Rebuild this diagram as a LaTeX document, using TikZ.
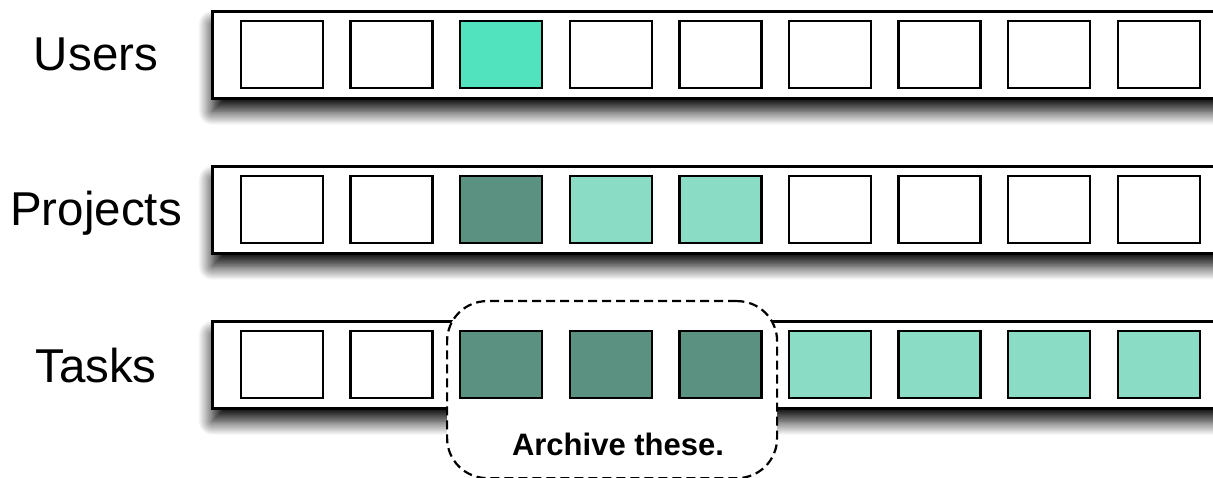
\documentclass[tikz,border=0pt]{standalone}
\usepackage{fontspec}
\setmainfont{Liberation Sans}
\usetikzlibrary{shadows.blur}
\definecolor{brightteal}{RGB}{80,227,190}
\definecolor{darkteal}{RGB}{90,145,128}
\definecolor{lightteal}{RGB}{138,220,196}
\begin{document}
\begin{tikzpicture}[x=1pt,y=-1pt,
  cell/.style={draw, line width=2.4pt, minimum width=82pt, minimum height=67pt, inner sep=0pt, fill=white},
  stripbox/.style={draw, line width=2.6pt, fill=white, inner sep=0pt, minimum width=1040pt, minimum height=87pt, anchor=north west,
    blur shadow={shadow xshift=0pt, shadow yshift=-13pt, shadow blur radius=14pt, shadow blur steps=16, shadow opacity=100}},
  lab/.style={font=\fontsize{47.5}{52}\selectfont, anchor=base, inner sep=0pt},
  archbox/.style={draw, dash pattern=on 9pt off 5pt, line width=2.2pt, rounded corners=40pt, fill=white,
    minimum width=330pt, minimum height=177pt, inner sep=0pt, anchor=north west},
  note/.style={font=\fontsize{31}{35}\selectfont\bfseries, anchor=base, inner sep=0pt}]
\useasboundingbox (0,0) rectangle (1213,478);
\clip (0,0) rectangle (1213,478);
% strips
\node[stripbox] (su) at (211,10) {};
\node[stripbox] (sp) at (211,165) {};
\node[stripbox] (st) at (211,320) {};
% archive box
\node[archbox] (arch) at (446,300) {};
\node[note] (archtext) at (618,455) {Archive these.};
% labels
\node[lab] (lu) at (96,71) {Users};
\node[lab] (lp) at (96,226) {Projects};
\node[lab] (lt) at (96,382) {Tasks};
% cells
\foreach \i in {0,...,8} {
  \pgfmathsetmacro{\cx}{282+109.6*\i}
  \def\fillu{white}\def\fillp{white}\def\fillt{white}
  \ifnum\i=2 \def\fillu{brightteal}\def\fillp{darkteal}\fi
  \ifnum\i=3 \def\fillp{lightteal}\fi
  \ifnum\i=4 \def\fillp{lightteal}\fi
  \ifnum\i>1 \ifnum\i<5 \def\fillt{darkteal}\else \def\fillt{lightteal}\fi\fi
  \node[cell, fill=\fillu] (u\i) at (\cx,54.5) {};
  \node[cell, fill=\fillp] (p\i) at (\cx,209.5) {};
  \node[cell, fill=\fillt] (t\i) at (\cx,364.5) {};
}
\end{tikzpicture}
\end{document}
